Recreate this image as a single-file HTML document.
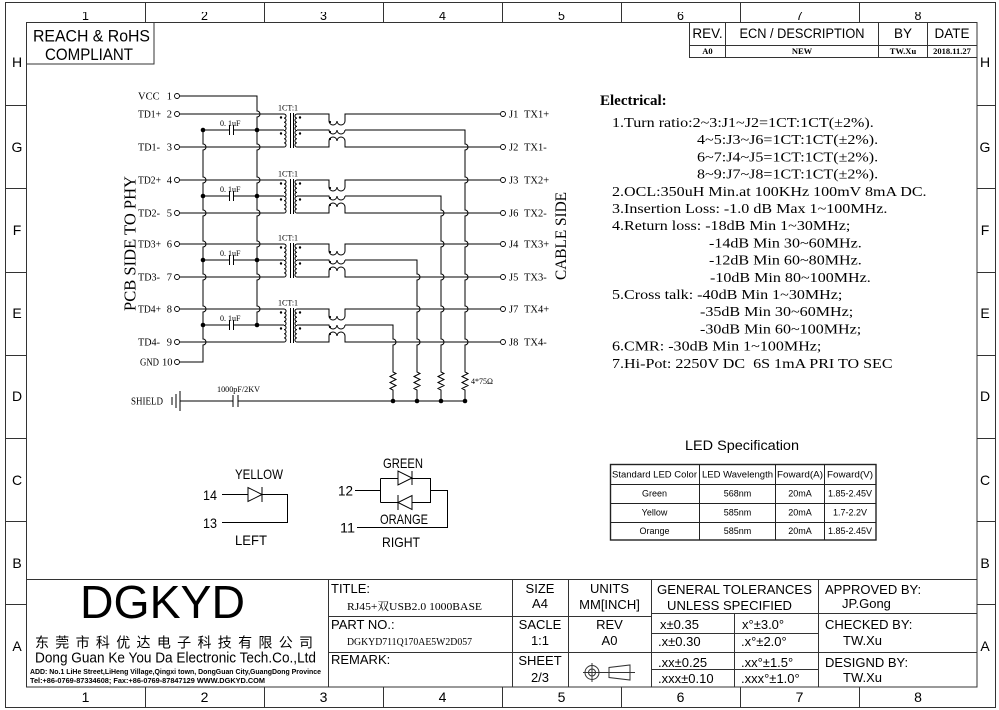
<!DOCTYPE html>
<html><head><meta charset="utf-8"><style>
html,body{margin:0;padding:0;background:#fff;}
svg{display:block;}
text{font-family:"Liberation Sans","Noto Sans CJK SC",sans-serif;fill:#000;}
.s{font-family:"Liberation Serif","Noto Serif CJK SC",serif;}
</style></head><body>
<svg width="999" height="710" viewBox="0 0 999 710" xmlns="http://www.w3.org/2000/svg">
<defs>
<clipPath id="ct"><rect x="0" y="12" width="999" height="10"/></clipPath>
<g id="pr" fill="none" stroke="#000" stroke-width="1">
<path d="M179.5,114H284M179.5,147H284M203,130H229.5M233.5,130H284M229.5,125V135M233.5,125V135"/>
<path d="M284,114a2.06,2.06 0 0,1 0,4.125a2.06,2.06 0 0,1 0,4.125a2.06,2.06 0 0,1 0,4.125a2.06,2.06 0 0,1 0,4.125a2.06,2.06 0 0,1 0,4.125a2.06,2.06 0 0,1 0,4.125a2.06,2.06 0 0,1 0,4.125a2.06,2.06 0 0,1 0,4.125"/>
<path d="M290.5,113V148M293.5,113V148"/>
<path d="M297,114a2.06,2.06 0 0,0 0,4.125a2.06,2.06 0 0,0 0,4.125a2.06,2.06 0 0,0 0,4.125a2.06,2.06 0 0,0 0,4.125a2.06,2.06 0 0,0 0,4.125a2.06,2.06 0 0,0 0,4.125a2.06,2.06 0 0,0 0,4.125a2.06,2.06 0 0,0 0,4.125"/>
<path d="M297,114H329V121a4,4 0 0,0 8,0a4,4 0 0,0 8,0V114H500.5M297,147H329V141a4,4 0 0,1 8,0a4,4 0 0,1 8,0V147H500.5M297,130H329a4,4 0 0,0 8,0a4,4 0 0,0 8,0"/>
<g fill="#000" stroke="none"><circle cx="203" cy="130" r="2.3"/><circle cx="257" cy="130" r="2.3"/><circle cx="281" cy="117.5" r="1.2"/><circle cx="281" cy="133.5" r="1.2"/><circle cx="300" cy="117.5" r="1.2"/><circle cx="300" cy="133.5" r="1.2"/><circle cx="330" cy="122" r="1.1"/><circle cx="330" cy="132" r="1.1"/><circle cx="330" cy="139" r="1.1"/></g>
</g>
</defs>
<rect width="999" height="710" fill="#fff"/>

<!-- frame -->
<g fill="none" stroke="#333" stroke-width="1">
<rect x="5.5" y="2.5" width="990" height="705"/>
<rect x="26.5" y="22.5" width="950.5" height="664.5"/>
<path d="M145.5,2V22M264.5,2V22M383.5,2V22M502.5,2V22M621.5,2V22M740.5,2V22M859.5,2V22M145.5,687V708M264.5,687V708M383.5,687V708M502.5,687V708M621.5,687V708M740.5,687V708M859.5,687V708M5,105.5H26M5,188.5H26M5,272.5H26M5,355.5H26M5,438.5H26M5,521.5H26M5,604.5H26M977,105.5H996M977,188.5H996M977,272.5H996M977,355.5H996M977,438.5H996M977,521.5H996M977,604.5H996"/>
</g>
<g font-size="12.5" text-anchor="middle" clip-path="url(#ct)" fill="#222">
<text x="85.5" y="20">1</text><text x="204.5" y="20">2</text><text x="323.5" y="20">3</text><text x="442.5" y="20">4</text><text x="561.5" y="20">5</text><text x="680.5" y="20">6</text><text x="799.5" y="20">7</text><text x="918" y="20">8</text>
</g>
<g font-size="14" text-anchor="middle">
<text x="85.5" y="702">1</text><text x="204.5" y="702">2</text><text x="323.5" y="702">3</text><text x="442.5" y="702">4</text><text x="561.5" y="702">5</text><text x="680.5" y="702">6</text><text x="799.5" y="702">7</text><text x="918" y="702">8</text>
<text x="17" y="67">H</text><text x="17" y="152">G</text><text x="17" y="235">F</text><text x="17" y="318">E</text><text x="17" y="401">D</text><text x="17" y="485">C</text><text x="17" y="568">B</text><text x="17" y="651">A</text>
<text x="985" y="67">H</text><text x="985" y="152">G</text><text x="985" y="235">F</text><text x="985" y="318">E</text><text x="985" y="401">D</text><text x="985" y="485">C</text><text x="985" y="568">B</text><text x="985" y="651">A</text>
</g>

<!-- REACH box -->
<rect x="26.5" y="22.5" width="127.5" height="41.5" fill="none" stroke="#333"/>
<text x="33" y="41.5" font-size="16.5" textLength="117" lengthAdjust="spacingAndGlyphs">REACH &amp; RoHS</text>
<text x="45" y="60" font-size="16.5" textLength="88" lengthAdjust="spacingAndGlyphs">COMPLIANT</text>

<!-- revision table -->
<g fill="none" stroke="#333">
<rect x="689.5" y="22.5" width="287.5" height="35"/>
<path d="M725.5,22V57M878.5,22V57M927.5,22V57M689,45.5H977"/>
</g>
<g font-size="13.5" text-anchor="middle">
<text x="707.5" y="38">REV.</text>
<text x="802" y="38" textLength="125" lengthAdjust="spacingAndGlyphs">ECN / DESCRIPTION</text>
<text x="903" y="38">BY</text>
<text x="952" y="38">DATE</text>
</g>
<g class="s" font-size="8.5" font-weight="bold" text-anchor="middle">
<text class="s" x="707.5" y="54">A0</text>
<text class="s" x="802" y="54">NEW</text>
<text class="s" x="903" y="54">TW.Xu</text>
<text class="s" x="952" y="54">2018.11.27</text>
</g>

<!-- schematic -->
<use href="#pr"/>
<use href="#pr" transform="translate(0,66)"/>
<use href="#pr" transform="translate(0,130)"/>
<use href="#pr" transform="translate(0,195)"/>
<g fill="none" stroke="#000" stroke-width="1">
<path d="M179.5,96H257V111a3,3 0 0,1 0,6V144a3,3 0 0,1 0,6V177a3,3 0 0,1 0,6V210a3,3 0 0,1 0,6V241a3,3 0 0,1 0,6V274a3,3 0 0,1 0,6V306a3,3 0 0,1 0,6V325"/>
<path d="M203,130V144a3,3 0 0,1 0,6V177a3,3 0 0,1 0,6V210a3,3 0 0,1 0,6V241a3,3 0 0,1 0,6V274a3,3 0 0,1 0,6V306a3,3 0 0,1 0,6V339a3,3 0 0,1 0,6V362H179.5"/>
<path d="M345,130H465V144a3,3 0 0,1 0,6V177a3,3 0 0,1 0,6V210a3,3 0 0,1 0,6V241a3,3 0 0,1 0,6V274a3,3 0 0,1 0,6V306a3,3 0 0,1 0,6V339a3,3 0 0,1 0,6V372l3,1.5l-6,3l6,3l-6,3l6,3l-6,3l3,1.5V401"/>
<path d="M345,196H441V210a3,3 0 0,1 0,6V241a3,3 0 0,1 0,6V274a3,3 0 0,1 0,6V306a3,3 0 0,1 0,6V339a3,3 0 0,1 0,6V372l3,1.5l-6,3l6,3l-6,3l6,3l-6,3l3,1.5V401"/>
<path d="M345,260H417V274a3,3 0 0,1 0,6V306a3,3 0 0,1 0,6V339a3,3 0 0,1 0,6V372l3,1.5l-6,3l6,3l-6,3l6,3l-6,3l3,1.5V401"/>
<path d="M345,325H393V339a3,3 0 0,1 0,6V372l3,1.5l-6,3l6,3l-6,3l6,3l-6,3l3,1.5V401"/>
<path d="M180,401H233M238,401H465M233,395V407M238,395V407M172,397V405M176,394V408M180,391V411"/>
</g>
<g fill="#000">
<circle cx="393" cy="401" r="2.3"/><circle cx="417" cy="401" r="2.3"/><circle cx="441" cy="401" r="2.3"/><circle cx="465" cy="401" r="2.3"/>
</g>
<g fill="#fff" stroke="#000" stroke-width="0.9">
<circle cx="177" cy="96" r="2.5"/><circle cx="177" cy="114" r="2.5"/><circle cx="177" cy="147" r="2.5"/><circle cx="177" cy="180" r="2.5"/><circle cx="177" cy="213" r="2.5"/><circle cx="177" cy="244" r="2.5"/><circle cx="177" cy="277" r="2.5"/><circle cx="177" cy="309" r="2.5"/><circle cx="177" cy="342" r="2.5"/><circle cx="177" cy="362" r="2.5"/>
<circle cx="503" cy="114" r="2.5"/><circle cx="503" cy="147" r="2.5"/><circle cx="503" cy="180" r="2.5"/><circle cx="503" cy="213" r="2.5"/><circle cx="503" cy="244" r="2.5"/><circle cx="503" cy="277" r="2.5"/><circle cx="503" cy="309" r="2.5"/><circle cx="503" cy="342" r="2.5"/>
</g>
<g class="s" font-size="10.5">
<text class="s" x="138" y="99.5">VCC</text><text class="s" x="172" y="99.5" text-anchor="end">1</text>
<text class="s" x="138" y="117.5" textLength="23" lengthAdjust="spacingAndGlyphs">TD1+</text><text class="s" x="172" y="117.5" text-anchor="end">2</text>
<text class="s" x="138" y="150.5" textLength="22" lengthAdjust="spacingAndGlyphs">TD1-</text><text class="s" x="172" y="150.5" text-anchor="end">3</text>
<text class="s" x="138" y="183.5" textLength="23" lengthAdjust="spacingAndGlyphs">TD2+</text><text class="s" x="172" y="183.5" text-anchor="end">4</text>
<text class="s" x="138" y="216.5" textLength="22" lengthAdjust="spacingAndGlyphs">TD2-</text><text class="s" x="172" y="216.5" text-anchor="end">5</text>
<text class="s" x="138" y="247.5" textLength="23" lengthAdjust="spacingAndGlyphs">TD3+</text><text class="s" x="172" y="247.5" text-anchor="end">6</text>
<text class="s" x="138" y="280.5" textLength="22" lengthAdjust="spacingAndGlyphs">TD3-</text><text class="s" x="172" y="280.5" text-anchor="end">7</text>
<text class="s" x="138" y="312.5" textLength="23" lengthAdjust="spacingAndGlyphs">TD4+</text><text class="s" x="172" y="312.5" text-anchor="end">8</text>
<text class="s" x="138" y="345.5" textLength="22" lengthAdjust="spacingAndGlyphs">TD4-</text><text class="s" x="172" y="345.5" text-anchor="end">9</text>
<text class="s" x="140" y="365.5" textLength="19" lengthAdjust="spacingAndGlyphs">GND</text><text class="s" x="172.5" y="365.5" text-anchor="end">10</text>
<text class="s" x="509" y="117.5">J1</text><text class="s" x="524" y="117.5">TX1+</text>
<text class="s" x="509" y="150.5">J2</text><text class="s" x="524" y="150.5">TX1-</text>
<text class="s" x="509" y="183.5">J3</text><text class="s" x="524" y="183.5">TX2+</text>
<text class="s" x="509" y="216.5">J6</text><text class="s" x="524" y="216.5">TX2-</text>
<text class="s" x="509" y="247.5">J4</text><text class="s" x="524" y="247.5">TX3+</text>
<text class="s" x="509" y="280.5">J5</text><text class="s" x="524" y="280.5">TX3-</text>
<text class="s" x="509" y="312.5">J7</text><text class="s" x="524" y="312.5">TX4+</text>
<text class="s" x="509" y="345.5">J8</text><text class="s" x="524" y="345.5">TX4-</text>
<text class="s" x="131" y="404.5" textLength="32" lengthAdjust="spacingAndGlyphs">SHIELD</text>
</g>
<g class="s" font-size="8">
<text class="s" x="220" y="126">0. 1uF</text><text class="s" x="220" y="192">0. 1uF</text><text class="s" x="220" y="256">0. 1uF</text><text class="s" x="220" y="321">0. 1uF</text>
<text class="s" x="278" y="110.5">1CT:1</text><text class="s" x="278" y="176.5">1CT:1</text><text class="s" x="278" y="240.5">1CT:1</text><text class="s" x="278" y="305.5">1CT:1</text>
<text class="s" x="217" y="392" textLength="43" lengthAdjust="spacingAndGlyphs">1000pF/2KV</text>
<text class="s" x="471" y="384">4*75Ω</text>
</g>
<text class="s" transform="translate(135.5,243.5) rotate(-90)" text-anchor="middle" font-size="16.5" textLength="135" lengthAdjust="spacingAndGlyphs">PCB SIDE TO PHY</text>
<text class="s" transform="translate(566,236) rotate(-90)" text-anchor="middle" font-size="16" textLength="88" lengthAdjust="spacingAndGlyphs">CABLE SIDE</text>

<!-- electrical -->
<text class="s" x="600" y="105" font-size="15" font-weight="bold">Electrical:</text>
<g class="s" font-size="13.5" style="white-space:pre">
<text class="s" transform="translate(612,127) scale(1.19,1)">1.Turn ratio:2~3:J1~J2=1CT:1CT(±2%).</text>
<text class="s" transform="translate(697,144.2) scale(1.19,1)">4~5:J3~J6=1CT:1CT(±2%).</text>
<text class="s" transform="translate(697,161.4) scale(1.19,1)">6~7:J4~J5=1CT:1CT(±2%).</text>
<text class="s" transform="translate(697,178.6) scale(1.19,1)">8~9:J7~J8=1CT:1CT(±2%).</text>
<text class="s" transform="translate(612,195.8) scale(1.19,1)">2.OCL:350uH Min.at 100KHz 100mV 8mA DC.</text>
<text class="s" transform="translate(612,213) scale(1.19,1)">3.Insertion Loss: -1.0 dB Max 1~100MHz.</text>
<text class="s" transform="translate(612,230.2) scale(1.19,1)">4.Return loss: -18dB Min 1~30MHz;</text>
<text class="s" transform="translate(709,247.4) scale(1.19,1)">-14dB Min 30~60MHz.</text>
<text class="s" transform="translate(709,264.6) scale(1.19,1)">-12dB Min 60~80MHz.</text>
<text class="s" transform="translate(710,281.8) scale(1.19,1)">-10dB Min 80~100MHz.</text>
<text class="s" transform="translate(612,299) scale(1.19,1)">5.Cross talk: -40dB Min 1~30MHz;</text>
<text class="s" transform="translate(700,316.2) scale(1.19,1)">-35dB Min 30~60MHz;</text>
<text class="s" transform="translate(700,333.4) scale(1.19,1)">-30dB Min 60~100MHz;</text>
<text class="s" transform="translate(612,350.6) scale(1.19,1)">6.CMR: -30dB Min 1~100MHz;</text>
<text class="s" transform="translate(612,367.8) scale(1.19,1)" style="white-space:pre">7.Hi-Pot: 2250V DC  6S 1mA PRI TO SEC</text>
</g>

<!-- LED spec -->
<text x="742" y="450" font-size="14" text-anchor="middle" textLength="114" lengthAdjust="spacingAndGlyphs">LED Specification</text>
<g fill="none" stroke="#222">
<rect x="610.5" y="464.5" width="265.5" height="75.5" stroke-width="1.4"/>
<path d="M699.5,464V540M775.5,464V540M824.5,464V540M610,484.5H876M610,503.5H876M610,522.5H876"/>
</g>
<g font-size="9" text-anchor="middle">
<text x="654.5" y="477.5" textLength="85" lengthAdjust="spacingAndGlyphs">Standard LED Color</text>
<text x="737.5" y="477.5" textLength="71" lengthAdjust="spacingAndGlyphs">LED Wavelength</text>
<text x="800" y="477.5" textLength="46" lengthAdjust="spacingAndGlyphs">Foward(A)</text>
<text x="850" y="477.5" textLength="46" lengthAdjust="spacingAndGlyphs">Foward(V)</text>
<text x="654.5" y="496.5">Green</text><text x="737.5" y="496.5">568nm</text><text x="800" y="496.5">20mA</text><text x="850" y="496.5">1.85-2.45V</text>
<text x="654.5" y="515.5">Yellow</text><text x="737.5" y="515.5">585nm</text><text x="800" y="515.5">20mA</text><text x="850" y="515.5">1.7-2.2V</text>
<text x="654.5" y="534">Orange</text><text x="737.5" y="534">585nm</text><text x="800" y="534">20mA</text><text x="850" y="534">1.85-2.45V</text>
</g>

<!-- LEDs -->
<g fill="none" stroke="#000" stroke-width="1">
<path d="M222,494.5H248M262,494.5H287.5V522.5H222"/>
<path d="M248,487.5V501.5L262,494.5Z"/>
<path d="M262,487V502"/>
<path d="M355,490.5H380.5M380.5,478.5V502.5M380.5,478.5H430.5V502.5H380.5M430.5,490.5H447.5V527.5H357"/>
<path d="M398,471V485L412,478Z" fill="#fff"/>
<path d="M412,471V485"/>
<path d="M412,495.5V509.5L398,502.5Z" fill="#fff"/>
<path d="M398,495V510"/>
</g>
<g font-size="14">
<text x="235" y="479" textLength="48" lengthAdjust="spacingAndGlyphs">YELLOW</text>
<text x="203" y="500" textLength="14" lengthAdjust="spacingAndGlyphs">14</text>
<text x="203" y="528" textLength="14" lengthAdjust="spacingAndGlyphs">13</text>
<text x="235" y="545" textLength="32" lengthAdjust="spacingAndGlyphs">LEFT</text>
<text x="383" y="468" textLength="40" lengthAdjust="spacingAndGlyphs">GREEN</text>
<text x="338" y="495.5" textLength="15" lengthAdjust="spacingAndGlyphs">12</text>
<text x="380" y="524" textLength="48" lengthAdjust="spacingAndGlyphs">ORANGE</text>
<text x="340" y="532.5" textLength="15" lengthAdjust="spacingAndGlyphs">11</text>
<text x="382" y="547" textLength="38" lengthAdjust="spacingAndGlyphs">RIGHT</text>
</g>

<!-- title block -->
<g fill="none" stroke="#333" stroke-width="1">
<path d="M26,579.5H977M328.5,579V687M512.5,579V687M568.5,579V687M651.5,579V687M818.5,579V687M734.5,613V687M328,616.5H651M328,652.5H651M651,613.5H977M651,633.5H818M651,652.5H977M651,669.5H818"/>
<path d="M583,672.5H635M609,667.5V677.5L630,680V665Z"/>
<circle cx="592" cy="672.5" r="7"/>
<circle cx="592" cy="672.5" r="3.5"/>
<path d="M592,663V682"/>
</g>
<text x="80" y="618" font-size="46" textLength="165" lengthAdjust="spacingAndGlyphs">DGKYD</text>
<text x="35" y="647.5" font-size="14" textLength="278" lengthAdjust="spacing" style="white-space:pre">东 莞 市 科 优 达 电 子 科 技 有 限 公 司</text>
<text x="35" y="662.5" font-size="15" textLength="281" lengthAdjust="spacingAndGlyphs">Dong Guan Ke You Da Electronic Tech.Co.,Ltd</text>
<text x="30" y="674" font-size="7.5" font-weight="bold" textLength="291" lengthAdjust="spacingAndGlyphs">ADD: No.1 LiHe Street,LiHeng Village,Qingxi town, DongGuan City,GuangDong Province</text>
<text x="30" y="683" font-size="7.5" font-weight="bold" textLength="235" lengthAdjust="spacingAndGlyphs">Tel:+86-0769-87334608; Fax:+86-0769-87847129  WWW.DGKYD.COM</text>

<g font-size="13">
<text x="331" y="593">TITLE:</text>
<text x="331" y="629">PART NO.:</text>
<text x="331" y="664">REMARK:</text>
<g text-anchor="middle">
<text x="540" y="593">SIZE</text><text x="540" y="608">A4</text>
<text x="540" y="629">SACLE</text><text x="540" y="645">1:1</text>
<text x="540" y="665">SHEET</text><text x="540" y="682">2/3</text>
<text x="609.5" y="593">UNITS</text><text x="609.5" y="609">MM[INCH]</text>
<text x="609.5" y="629">REV</text><text x="609.5" y="645">A0</text>
</g>
<text x="657" y="594" textLength="155" lengthAdjust="spacingAndGlyphs">GENERAL TOLERANCES</text>
<text x="667" y="610" textLength="125" lengthAdjust="spacingAndGlyphs">UNLESS SPECIFIED</text>
<text x="660" y="629">x±0.35</text><text x="742" y="629">x°±3.0°</text>
<text x="658" y="646">.x±0.30</text><text x="741" y="646">.x°±2.0°</text>
<text x="658" y="667">.xx±0.25</text><text x="741" y="667">.xx°±1.5°</text>
<text x="658" y="683">.xxx±0.10</text><text x="741" y="683">.xxx°±1.0°</text>
<text x="825" y="594">APPROVED BY:</text><text x="842" y="608">JP.Gong</text>
<text x="825" y="629">CHECKED BY:</text><text x="843" y="645">TW.Xu</text>
<text x="825" y="667">DESIGND BY:</text><text x="843" y="682">TW.Xu</text>
</g>
<text class="s" x="347" y="610" font-size="11" textLength="135" lengthAdjust="spacingAndGlyphs">RJ45+双USB2.0 1000BASE</text>
<text class="s" x="347" y="645" font-size="11" textLength="125" lengthAdjust="spacingAndGlyphs">DGKYD711Q170AE5W2D057</text>
</svg>
</body></html>
